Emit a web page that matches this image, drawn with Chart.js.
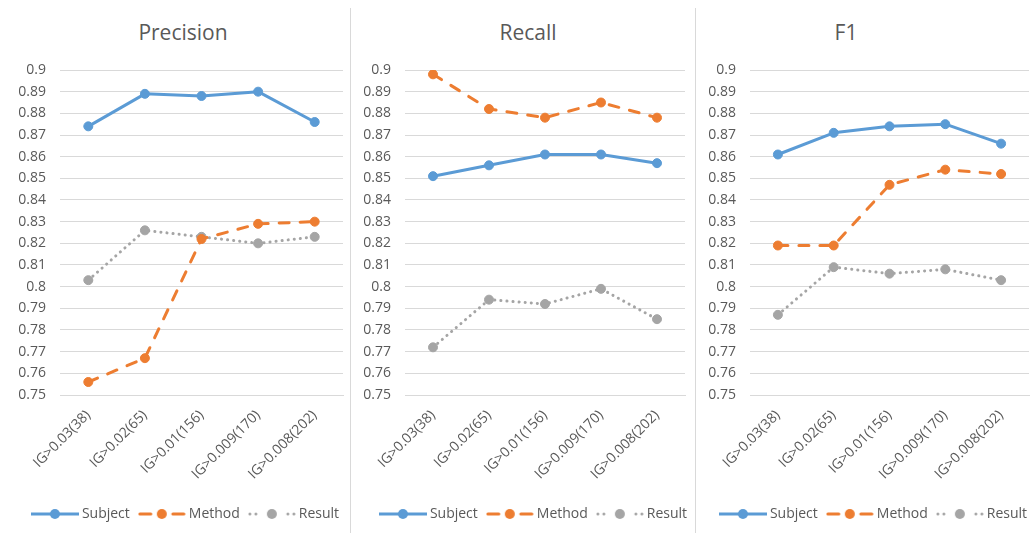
<!DOCTYPE html>
<html>
<head>
<meta charset="utf-8">
<script src="https://cdn.jsdelivr.net/npm/chart.js@4"></script>
<style>
  html, body { margin: 0; padding: 0; background: #ffffff; }
  body { width: 1036px; height: 533px; position: relative; overflow: hidden; font-family: "Open Sans", "Noto Sans", sans-serif; }
  .panel { position: absolute; top: 0; height: 533px; }
  .divider { position: absolute; top: 8px; bottom: 0; width: 1px; background: #d9d9d9; }
  .title { position: absolute; top: 18px; font-size: 21px; color: #595959; transform: translateX(-50%); white-space: nowrap; line-height: 29px; }
</style>
</head>
<body>
<div class="title" style="left:183px">Precision</div>
<div class="title" style="left:528px">Recall</div>
<div class="title" style="left:846px">F1</div>
<div class="divider" style="left:350px"></div>
<div class="divider" style="left:695px"></div>
<div class="panel" style="left:0px;width:350px"><canvas id="c1" width="350" height="533"></canvas></div>
<div class="panel" style="left:351px;width:344px"><canvas id="c2" width="344" height="533"></canvas></div>
<div class="panel" style="left:696px;width:340px"><canvas id="c3" width="340" height="533"></canvas></div>
<script>
// ---- data ----
const categories = ["IG>0.03(38)", "IG>0.02(65)", "IG>0.01(156)", "IG>0.009(170)", "IG>0.008(202)"];
const seriesNames = ["Subject", "Method", "Result"];

const precisionSubject = [0.874, 0.889, 0.888, 0.890, 0.876];
const precisionMethod  = [0.756, 0.767, 0.822, 0.829, 0.830];
const precisionResult  = [0.803, 0.826, 0.823, 0.820, 0.823];

const recallSubject = [0.851, 0.856, 0.861, 0.861, 0.857];
const recallMethod  = [0.898, 0.882, 0.878, 0.885, 0.878];
const recallResult  = [0.772, 0.794, 0.792, 0.799, 0.785];

const f1Subject = [0.861, 0.871, 0.874, 0.875, 0.866];
const f1Method  = [0.819, 0.819, 0.847, 0.854, 0.852];
const f1Result  = [0.787, 0.809, 0.806, 0.808, 0.803];

const yMin = 0.75, yMax = 0.9, yStep = 0.01;

// ---- styles ----
const COLORS = ["#5B9BD5", "#ED7D31", "#A5A5A5"];
const DASHES = [[], [10, 11], [0.1, 6]];
const TEXT = "#595959";
const GRID = "#D9D9D9";
const FONT = '"Open Sans", "Noto Sans", sans-serif';

function legendIcon(i) {
  const c = document.createElement("canvas");
  c.width = 48; c.height = 12;
  const g = c.getContext("2d");
  g.strokeStyle = COLORS[i]; g.fillStyle = COLORS[i];
  g.lineWidth = 3;
  g.lineCap = i === 0 ? "butt" : "round";
  if (i === 0) {
    g.beginPath(); g.moveTo(0, 6); g.lineTo(48, 6); g.stroke();
  } else if (i === 1) {
    g.beginPath(); g.moveTo(2, 6); g.lineTo(13, 6); g.stroke();
    g.beginPath(); g.moveTo(35, 6); g.lineTo(46, 6); g.stroke();
  } else {
    [2, 8, 40, 46].forEach(x => { g.beginPath(); g.arc(x, 6, 1.5, 0, Math.PI * 2); g.fill(); });
  }
  g.beginPath(); g.arc(24, 6, 5, 0, Math.PI * 2); g.fill();
  return c;
}
const icons = [0, 1, 2].map(legendIcon);

const legendShift = {
  id: "legendShift",
  afterLayout(chart, args, opts) {
    const lg = chart.legend;
    if (lg) { lg.left += opts.dx; lg.right += opts.dx; }
  }
};

function makeChart(id, values, padR, yWidth, dx) {
  const datasets = values.map((v, i) => ({
    label: seriesNames[i],
    data: v,
    borderColor: COLORS[i],
    backgroundColor: COLORS[i],
    pointBackgroundColor: COLORS[i],
    pointBorderColor: COLORS[i],
    borderWidth: 3,
    borderDash: DASHES[i],
    borderCapStyle: i === 0 ? "butt" : "round",
    borderJoinStyle: "round",
    pointRadius: 4.5,
    pointBorderWidth: 1,
    tension: 0,
    fill: false
  }));
  return new Chart(document.getElementById(id), {
    type: "line",
    data: { labels: categories, datasets },
    plugins: [legendShift],
    options: {
      responsive: false,
      animation: false,
      devicePixelRatio: 1,
      layout: { padding: { top: 70, left: 0, right: padR, bottom: 2 } },
      plugins: {
        legendShift: { dx },
        title: { display: false },
        tooltip: { enabled: false },
        legend: {
          position: "bottom",
          align: "center",
          labels: {
            usePointStyle: true,
            pointStyleWidth: 40,
            padding: 12,
            color: TEXT,
            font: { family: FONT, size: 14 },
            generateLabels: (chart) => chart.data.datasets.map((d, i) => ({
              text: d.label,
              pointStyle: icons[i],
              fontColor: TEXT,
              fillStyle: COLORS[i],
              strokeStyle: COLORS[i],
              lineWidth: 0,
              hidden: false,
              datasetIndex: i
            }))
          }
        }
      },
      scales: {
        x: {
          type: "category",
          offset: true,
          grid: { display: false, drawTicks: false },
          border: { display: true, color: GRID, width: 1 },
          ticks: {
            color: TEXT,
            font: { family: FONT, size: 14 },
            maxRotation: 45,
            minRotation: 45,
            padding: 12,
            autoSkip: false
          },
          afterFit: (s) => { s.height = 100; }
        },
        y: {
          min: yMin,
          max: yMax,
          grid: { color: GRID, lineWidth: 1, drawTicks: false },
          border: { display: false },
          ticks: {
            stepSize: yStep,
            color: TEXT,
            font: { family: FONT, size: 14 },
            padding: 14,
            callback: (v) => String(Number(v.toFixed(2)))
          },
          afterFit: (s) => { s.width = yWidth; }
        }
      }
    }
  });
}

makeChart("c1", [precisionSubject, precisionMethod, precisionResult], 7, 60, 15.5);
makeChart("c2", [recallSubject, recallMethod, recallResult], 10, 54, 17);
makeChart("c3", [f1Subject, f1Method, f1Result], 7, 54, 12.5);
</script>
</body>
</html>
